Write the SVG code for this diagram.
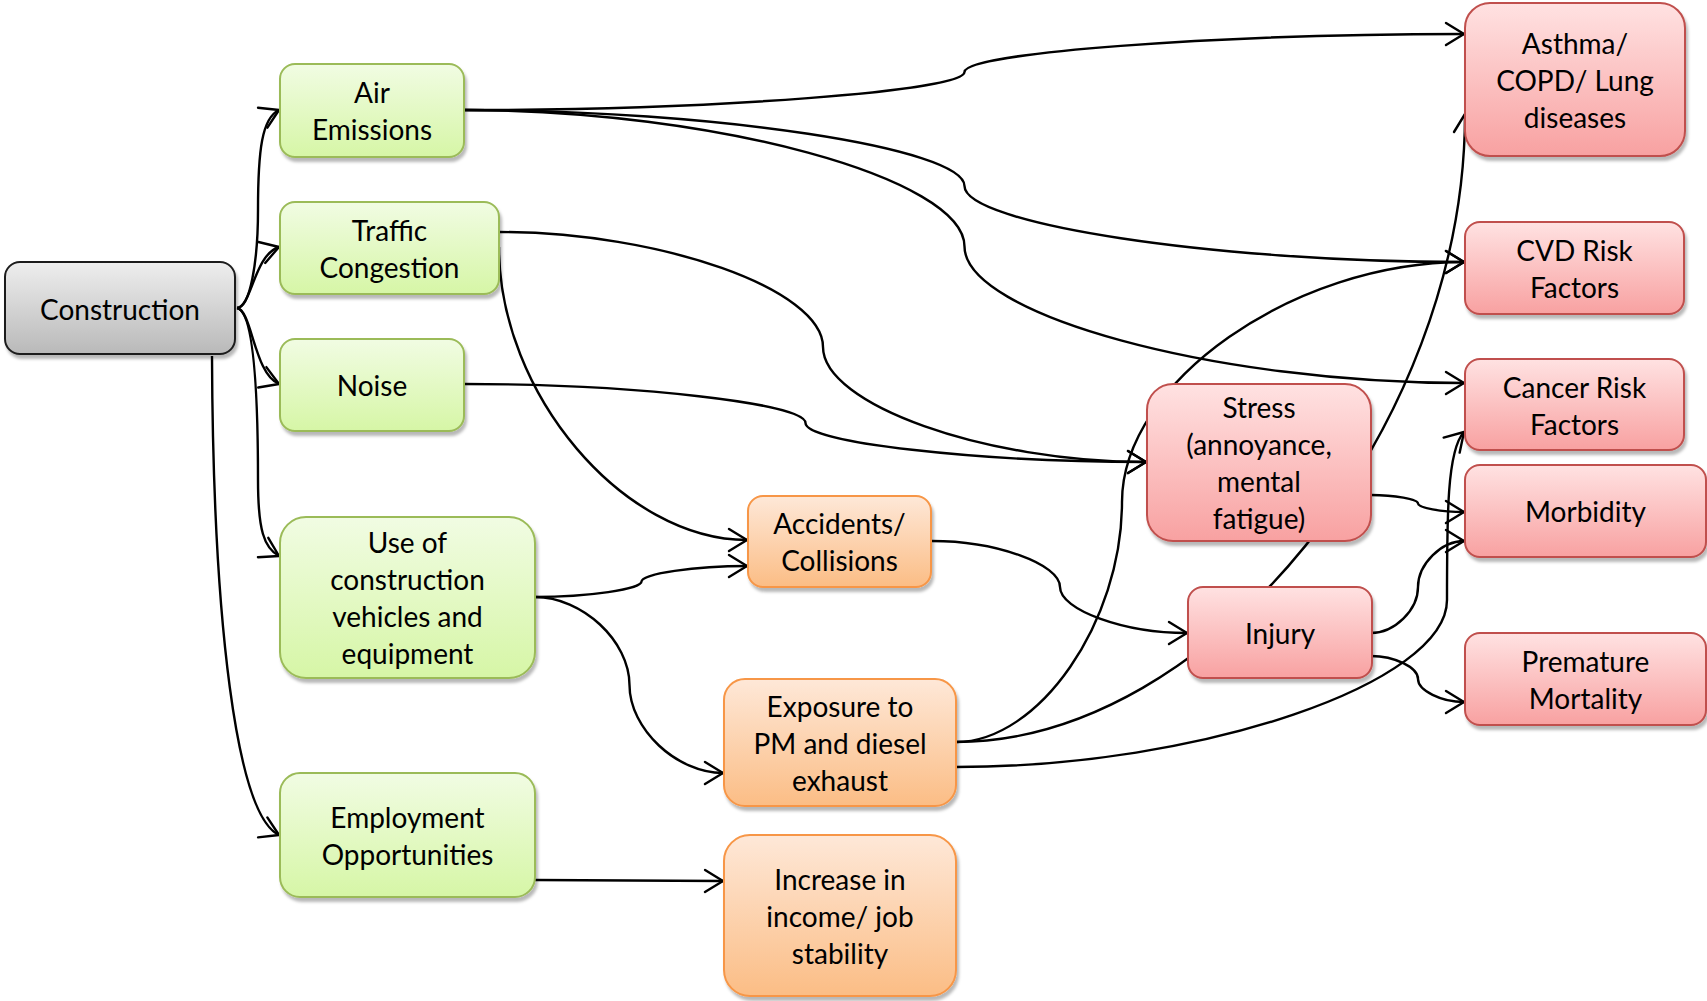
<svg xmlns="http://www.w3.org/2000/svg" width="1707" height="1001" viewBox="0 0 1707 1001">
  <defs>
    <linearGradient id="gGrey" x1="0" y1="0" x2="0" y2="1">
      <stop offset="0" stop-color="#eeeeee"/>
      <stop offset="1" stop-color="#b9b9b9"/>
    </linearGradient>
    <linearGradient id="gGreen" x1="0" y1="0" x2="0" y2="1">
      <stop offset="0" stop-color="#f1fce3"/>
      <stop offset="1" stop-color="#d6f6a6"/>
    </linearGradient>
    <linearGradient id="gOrange" x1="0" y1="0" x2="0" y2="1">
      <stop offset="0" stop-color="#fee8d8"/>
      <stop offset="1" stop-color="#fbbd85"/>
    </linearGradient>
    <linearGradient id="gRed" x1="0" y1="0" x2="0" y2="1">
      <stop offset="0" stop-color="#ffe2e2"/>
      <stop offset="1" stop-color="#f8a1a1"/>
    </linearGradient>
    <filter id="shadow" x="-10%" y="-10%" width="125%" height="130%">
      <feDropShadow dx="2" dy="4" stdDeviation="1.5" flood-color="#000" flood-opacity="0.28"/>
    </filter>
    <marker id="arrow" viewBox="-24 -16 28 32" refX="0" refY="0" markerWidth="28" markerHeight="32" markerUnits="userSpaceOnUse" orient="auto">
      <path d="M-18,-11 L0,0 L-18,11" fill="none" stroke="#000" stroke-width="2.4" stroke-linecap="round" stroke-linejoin="round"/>
    </marker>
    <style>
      .box { filter: url(#shadow); stroke-width: 2; }
      .grey { fill: url(#gGrey); stroke: #1e1e1e; }
      .green { fill: url(#gGreen); stroke: #9bbb59; }
      .orange { fill: url(#gOrange); stroke: #f79646; }
      .red { fill: url(#gRed); stroke: #c0504d; }
      .lbl { font-family: "Lato", "Open Sans", "Liberation Sans", sans-serif; font-size: 28px; fill: #000; text-anchor: middle; dominant-baseline: central; }
      .conn path { fill: none; stroke: #000; stroke-width: 2.4; marker-end: url(#arrow); }
    </style>
  </defs>

  <rect width="1707" height="1001" fill="#ffffff"/>

  <!-- connectors (drawn first, so the boxes sit on top of them) -->
  <g id="connectors" class="conn">
    <path id="c-con-air" d="M237,308 C250,308 258,262 258,210 C258,150 262,118 279,110"/>
    <path id="c-con-traffic" d="M237,308 C252,306 254,255 279,247"/>
    <path id="c-con-noise" d="M237,308 C252,310 254,374 279,384"/>
    <path id="c-con-use" d="M237,308 C256,312 258,420 258,480 C258,530 264,548 279,556"/>
    <path id="c-con-employ" d="M212,356 C213,620 236,815 279,835"/>
    <path id="c-air-asthma" d="M464,110 C714,110 964.5,91 964.5,72 C964.5,53 1215,34 1464,34"/>
    <path id="c-air-cvd" d="M464,110 C714,110 964.5,148 964.5,186 C964.5,224 1215,262 1464,262"/>
    <path id="c-air-cancer" d="M464,110 C714,110 964.5,178.25 964.5,246.5 C964.5,314.75 1215,383 1464,383"/>
    <path id="c-traffic-stress" d="M499,232 C661,232 823,289.5 823,347 C823,404.5 985,462 1146,462"/>
    <path id="c-traffic-accidents" d="M499,247 C499,394 623.5,540 747,540"/>
    <path id="c-noise-stress" d="M464,384 C634.75,384 805.5,403.5 805.5,423 C805.5,442.5 976.25,462 1146,462"/>
    <path id="c-use-accidents" d="M535,597 C588.25,597 641.5,589.25 641.5,581.5 C641.5,573.75 694.75,566 747,566"/>
    <path id="c-use-exposure" d="M535,597 C582.25,597 629.5,641 629.5,685 C629.5,729 676.75,773 723,773"/>
    <path id="c-employ-income" d="M535,880 L723,881"/>
    <path id="c-accidents-injury" d="M932,541 C996,541 1060,564 1060,587 C1060,610 1124,633 1187,633"/>
    <path id="c-exposure-cvd" d="M956,742 C1039,742 1122,622 1122,502 C1122,382 1293.5,262 1464,262"/>
    <path id="c-exposure-asthma" d="M956,742 C1210,742 1465,427 1465,114"/>
    <path id="c-exposure-cancer" d="M956,767 C1201,767 1447,683 1447,600 C1447,516 1447,450 1464,432"/>
    <path id="c-stress-morbidity" d="M1371,495 C1394.5,495 1418,499.25 1418,503.5 C1418,507.75 1441.5,512 1464,512"/>
    <path id="c-injury-morbidity" d="M1371,633 C1394.5,633 1418,610 1418,587 C1418,564 1441.5,541 1464,541"/>
    <path id="c-injury-mortality" d="M1371,656 C1394.5,656 1418,667.5 1418,679 C1418,690.5 1441.5,702 1464,702"/>
  </g>

  <!-- source -->
  <g id="construction">
    <rect class="box grey" x="5" y="262" width="230" height="92" rx="15"/>
    <text class="lbl" x="120" y="309">Construction</text>
  </g>

  <!-- pathways -->
  <g id="air-emissions">
    <rect class="box green" x="280" y="64" width="184" height="93" rx="15"/>
    <text class="lbl" x="372" y="92">Air</text>
    <text class="lbl" x="372" y="129">Emissions</text>
  </g>
  <g id="traffic-congestion">
    <rect class="box green" x="280" y="202" width="219" height="92" rx="15"/>
    <text class="lbl" x="389.5" y="229.5">Traffic</text>
    <text class="lbl" x="389.5" y="266.5">Congestion</text>
  </g>
  <g id="noise">
    <rect class="box green" x="280" y="339" width="184" height="92" rx="15"/>
    <text class="lbl" x="372" y="385">Noise</text>
  </g>
  <g id="vehicles-equipment">
    <rect class="box green" x="280" y="517" width="255" height="161" rx="26"/>
    <text class="lbl" x="407.5" y="542">Use of</text>
    <text class="lbl" x="407.5" y="579">construction</text>
    <text class="lbl" x="407.5" y="616">vehicles and</text>
    <text class="lbl" x="407.5" y="653">equipment</text>
  </g>
  <g id="employment">
    <rect class="box green" x="280" y="773" width="255" height="124" rx="20"/>
    <text class="lbl" x="407.5" y="817">Employment</text>
    <text class="lbl" x="407.5" y="854">Opportunities</text>
  </g>

  <!-- intermediate effects -->
  <g id="accidents">
    <rect class="box orange" x="748" y="496" width="183" height="91" rx="15"/>
    <text class="lbl" x="839.5" y="523">Accidents/</text>
    <text class="lbl" x="839.5" y="560">Collisions</text>
  </g>
  <g id="exposure">
    <rect class="box orange" x="724" y="679" width="232" height="127" rx="21"/>
    <text class="lbl" x="840" y="705.5">Exposure to</text>
    <text class="lbl" x="840" y="742.5">PM and diesel</text>
    <text class="lbl" x="840" y="779.5">exhaust</text>
  </g>
  <g id="income">
    <rect class="box orange" x="724" y="835" width="232" height="161" rx="26"/>
    <text class="lbl" x="840" y="878.5">Increase in</text>
    <text class="lbl" x="840" y="915.5">income/ job</text>
    <text class="lbl" x="840" y="952.5">stability</text>
  </g>
  <g id="stress">
    <rect class="box red" x="1147" y="384" width="224" height="157" rx="26"/>
    <text class="lbl" x="1259" y="407">Stress</text>
    <text class="lbl" x="1259" y="444">(annoyance,</text>
    <text class="lbl" x="1259" y="481">mental</text>
    <text class="lbl" x="1259" y="518">fatigue)</text>
  </g>
  <g id="injury">
    <rect class="box red" x="1188" y="587" width="184" height="91" rx="15"/>
    <text class="lbl" x="1280" y="633">Injury</text>
  </g>

  <!-- health outcomes -->
  <g id="asthma">
    <rect class="box red" x="1465" y="3" width="220" height="153" rx="25"/>
    <text class="lbl" x="1575" y="42.5">Asthma/</text>
    <text class="lbl" x="1575" y="79.5">COPD/ Lung</text>
    <text class="lbl" x="1575" y="116.5">diseases</text>
  </g>
  <g id="cvd">
    <rect class="box red" x="1465" y="222" width="219" height="92" rx="15"/>
    <text class="lbl" x="1574.5" y="250">CVD Risk</text>
    <text class="lbl" x="1574.5" y="287">Factors</text>
  </g>
  <g id="cancer">
    <rect class="box red" x="1465" y="359" width="219" height="91" rx="15"/>
    <text class="lbl" x="1574.5" y="386.5">Cancer Risk</text>
    <text class="lbl" x="1574.5" y="423.5">Factors</text>
  </g>
  <g id="morbidity">
    <rect class="box red" x="1465" y="465" width="241" height="92" rx="15"/>
    <text class="lbl" x="1585.5" y="511">Morbidity</text>
  </g>
  <g id="mortality">
    <rect class="box red" x="1465" y="633" width="241" height="92" rx="15"/>
    <text class="lbl" x="1585.5" y="660.5">Premature</text>
    <text class="lbl" x="1585.5" y="697.5">Mortality</text>
  </g>
</svg>
